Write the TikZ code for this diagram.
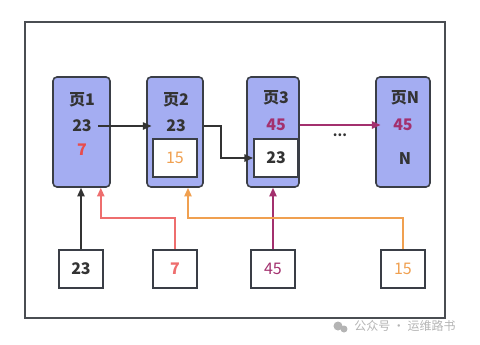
\documentclass[tikz,border=0pt]{standalone}
\usepackage{fontspec}
\setmainfont{Noto Sans CJK SC}
\usetikzlibrary{arrows.meta,calc}
\definecolor{frame}{HTML}{4A4D52}
\definecolor{edge}{HTML}{3A3E46}
\definecolor{pagefill}{HTML}{A4ADF2}
\definecolor{ink}{HTML}{333333}
\definecolor{red7}{HTML}{E84C4C}
\definecolor{redln}{HTML}{EE6E6E}
\definecolor{org}{HTML}{F0A050}
\definecolor{mag}{HTML}{A3306E}
\definecolor{wm}{HTML}{B4B4B4}

\begin{document}
\begin{tikzpicture}[
  x=0.75pt,y=-0.75pt,
  font=\fontsize{12}{14}\selectfont,
  >={Triangle[length=6.5pt,width=5.5pt]},
  page/.style={draw=edge,line width=1.2pt,fill=pagefill,rounded corners=3pt,
    minimum height=110*0.75pt,inner sep=0pt},
  cell/.style={draw=edge,line width=1.4pt,fill=white,
    minimum width=44*0.75pt,minimum height=38*0.75pt,inner sep=0pt},
  val/.style={font=\fontsize{12}{14}\selectfont\bfseries,inner sep=4.5pt},
  link/.style={->,line width=1.2pt},
]
\useasboundingbox (0,0) rectangle (480,344);

% ============ frame ============
\draw[frame,line width=1.2pt] (25,22) rectangle (445,318);

% ============ pages ============
\node[page,minimum width=57*0.75pt] (p1) at (81.5,132) {};
\node[page,minimum width=56*0.75pt] (p2) at (175,132) {};
\node[page,minimum width=52*0.75pt] (p3) at (273,132) {};
\node[page,minimum width=54*0.75pt] (pN) at (403,132) {};

\node[val,ink] (t1) at (82,100) {页1};
\node[val,ink] (p1v) at (82,126) {23};
\node[val,red7] (p1w) at (82,150) {7};

\node[val,ink] (t2) at (176,100) {页2};
\node[val,ink] (p2v) at (176,126) {23};
\node[cell] (b2) at (175,158) {\color{org}15};

\node[val,ink] (t3) at (276,98) {页3};
\node[val,mag] (p3v) at (276,125) {45};
\node[cell] (b3) at (276,158) {\bfseries\color{ink}23};

\node[val,ink] (tN) at (405,98) {页N};
\node[val,mag] (pNv) at (403,125) {45};
\node[val,ink] (pNn) at (405,159) {N};

\node[ink,font=\fontsize{10}{12}\selectfont] (dots) at (340,135) {\bfseries...};

\draw[link,ink] (p1v.east) -- ([xshift=4pt]p2.west |- p1v);
\draw[link,ink] (p2.east |- p2v) -- ++(17,0) |- (b3.west);
\draw[link,mag] (p3.east |- p3v) -- ([xshift=4pt]pN.west |- p3v);

% ============ keys ============
\node[cell] (q23) at (81,269) {\bfseries\color{ink}23};
\node[cell] (q7) at (175,269) {\bfseries\color{redln}7};
\node[cell] (q45) at (273,269) {\color{mag}45};
\node[cell] (q15) at (403,269) {\color{org}15};

\draw[link,ink] (q23.north) -- (q23.north |- p1.south);
\draw[link,redln] (q7.north) -- ++(0,-31) -| ($(p1.south east)+(-10,0)$);
\draw[link,mag] (q45.north) -- (q45.north |- p3.south);
\draw[link,org] (q15.north) -- ++(0,-31) -| ($(p2.south)+(13,0)$);

% ============ watermark ============
\fill[wm] (338,326) circle (4.5) (344,329) circle (3.5);
\node[wm,font=\fontsize{9}{11}\selectfont] (mark) at (405,326) {公众号 · 运维路书};
\end{tikzpicture}
\end{document}
